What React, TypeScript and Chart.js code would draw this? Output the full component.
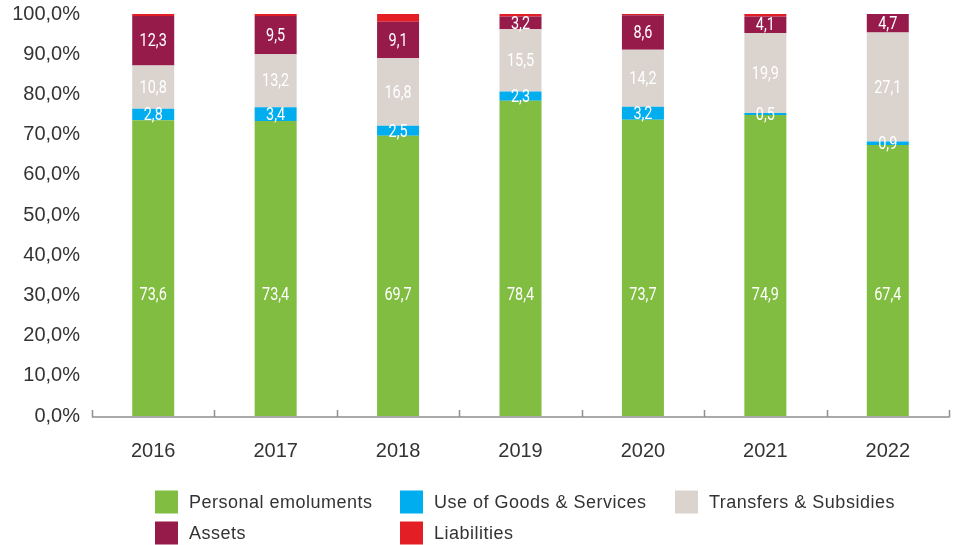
import React, { useEffect, useRef } from "react";
import { Chart, registerables } from "chart.js";

Chart.register(...registerables);

const years = ["2016", "2017", "2018", "2019", "2020", "2021", "2022"];
const personalEmoluments = [73.6, 73.4, 69.7, 78.4, 73.7, 74.9, 67.4];
const goodsServices = [2.8, 3.4, 2.5, 2.3, 3.2, 0.5, 0.9];
const transfersSubsidies = [10.8, 13.2, 16.8, 15.5, 14.2, 19.9, 27.1];
const assets = [12.3, 9.5, 9.1, 3.2, 8.6, 4.1, 4.7];
const liabilities = [0.5, 0.5, 1.9, 0.6, 0.3, 0.6, 0.0];
const yTicks = [0, 10, 20, 30, 40, 50, 60, 70, 80, 90, 100];

const seriesNames = [
  "Personal emoluments",
  "Use of Goods & Services",
  "Transfers & Subsidies",
  "Assets",
  "Liabilities",
];
const seriesColors = ["#80bd41", "#00adef", "#dad3ce", "#961b4b", "#e31e24"];

const fmt = (v: number) => v.toFixed(1).replace(".", ",");

const axisPlugin = {
  id: "axisTicks",
  afterDatasetsDraw(chart: any) {
    const ctx = chart.ctx;
    const xs = chart.scales.x;
    const y0 = chart.scales.y.getPixelForValue(0) + 1;
    const n = chart.data.labels.length;
    const w = (xs.right - xs.left) / n;
    ctx.save();
    ctx.strokeStyle = "#8f8f8f";
    ctx.lineWidth = 1.5;
    ctx.beginPath();
    ctx.moveTo(xs.left, y0);
    ctx.lineTo(xs.right, y0);
    for (let i = 0; i <= n; i++) {
      const px = Math.round(xs.getPixelForValue(0) - w / 2 + i * w) + 0.5;
      ctx.moveTo(px, y0 + 0.5);
      ctx.lineTo(px, y0 - 7);
    }
    ctx.stroke();
    ctx.restore();
  },
};

const labelPlugin = {
  id: "barLabels",
  afterDatasetsDraw(chart: any) {
    const ctx = chart.ctx;
    const ys = chart.scales.y;
    ctx.save();
    ctx.fillStyle = "#ffffff";
    ctx.textAlign = "center";
    ctx.textBaseline = "middle";
    ctx.font = "19px Roboto";
    chart.data.datasets.forEach((ds: any, di: number) => {
      if (di > 3) return;
      const meta = chart.getDatasetMeta(di);
      meta.data.forEach((el: any, j: number) => {
        const v = ds.data[j];
        let cy = (el.y + el.base) / 2;
        if (di === 0) cy = ys.getPixelForValue(30.3);
        ctx.save();
        ctx.translate(el.x, cy + 1);
        ctx.scale(0.76, 1);
        ctx.fillText(fmt(v), 0, 0);
        ctx.restore();
      });
    });
    ctx.restore();
  },
};

const legendPlugin = {
  id: "gridLegend",
  afterDraw(chart: any) {
    const ctx = chart.ctx;
    const cols = [155, 400, 675];
    const rows = [502, 533];
    ctx.save();
    ctx.font = "18px 'Liberation Sans'";
    (ctx as any).letterSpacing = "0.5px";
    ctx.textBaseline = "middle";
    ctx.textAlign = "left";
    chart.data.datasets.forEach((ds: any, i: number) => {
      const cx = cols[i % 3];
      const cy = rows[Math.floor(i / 3)];
      ctx.fillStyle = ds.backgroundColor;
      ctx.fillRect(cx, cy - 11.5, 23, 23);
      ctx.fillStyle = "#333333";
      ctx.fillText(ds.label, cx + 34, cy + 1);
    });
    ctx.restore();
  },
};

export default function App() {
  const ref = useRef<HTMLCanvasElement | null>(null);
  useEffect(() => {
    if (!ref.current) return;
    const seriesData = [
      personalEmoluments,
      goodsServices,
      transfersSubsidies,
      assets,
      liabilities,
    ];
    const chart = new Chart(ref.current, {
      type: "bar",
      data: {
        labels: years,
        datasets: seriesData.map((d, i) => ({
          label: seriesNames[i],
          data: d,
          backgroundColor: seriesColors[i],
          borderWidth: 0,
          categoryPercentage: 1,
          barPercentage: 0.343,
        })),
      },
      options: {
        responsive: false,
        animation: false,
        layout: { padding: { top: 14, right: 8, left: 0, bottom: 0 } },
        plugins: {
          legend: { display: false },
          tooltip: { enabled: false },
        },
        scales: {
          x: {
            stacked: true,
            grid: { display: false },
            border: { display: false },
            ticks: {
              padding: 15,
              color: "#333333",
              font: { family: "'Liberation Sans'", size: 20 },
            },
            afterFit: (s: any) => {
              s.height = 129;
              s.paddingLeft = 0;
              s.paddingRight = 0;
            },
          },
          y: {
            stacked: true,
            min: 0,
            max: 100,
            grid: { display: false, drawTicks: false },
            border: { display: false },
            afterBuildTicks: (s: any) => {
              s.ticks = yTicks.map((v) => ({ value: v }));
            },
            ticks: {
              padding: 12,
              color: "#333333",
              font: { family: "'Liberation Sans'", size: 20 },
              callback: (v: any) => fmt(Number(v)) + "%",
            },
            afterFit: (s: any) => {
              s.width = 92;
              s.paddingTop = 0;
              s.paddingBottom = 0;
            },
          },
        },
      },
      plugins: [axisPlugin, labelPlugin, legendPlugin],
    });
    return () => chart.destroy();
  }, []);
  return (
    <div style={{ position: "absolute", left: 0, top: 0, width: 957, height: 545, background: "#fff" }}>
      <canvas ref={ref} width={957} height={545} />
    </div>
  );
}
